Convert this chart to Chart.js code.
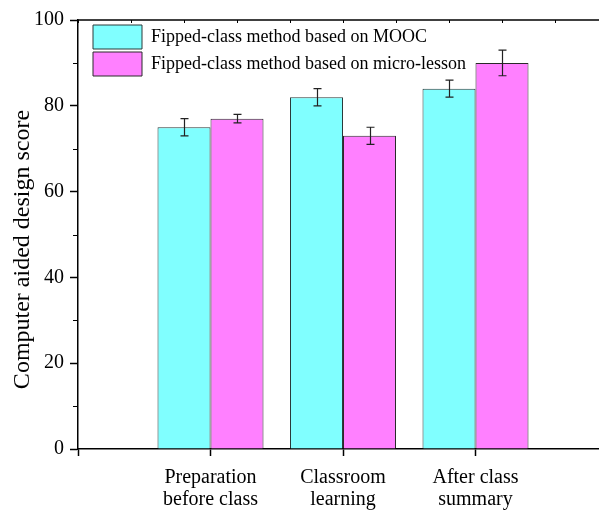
<!DOCTYPE html>
<html>
<head>
<meta charset="utf-8">
<script src="https://cdn.jsdelivr.net/npm/chart.js@4"></script>
<style>
  html, body { margin: 0; padding: 0; background: #fff; overflow: hidden; }
  canvas { display: block; }
</style>
</head>
<body>
<canvas id="c" width="619" height="511"></canvas>
<script>
// Stage of the course (placed at x = 1, 2, 3 on the axis)
const categories = [['Preparation', 'before class'], ['Classroom', 'learning'], ['After class', 'summary']];
const seriesNames = ['Fipped-class method based on MOOC', 'Fipped-class method based on micro-lesson'];
// Mean scores and their error margins
const moocScores = [75, 82, 84];
const moocErrors = [2, 2, 2];
const microScores = [77, 73, 90];
const microErrors = [1, 2, 3];
const yTicks = [0, 20, 40, 60, 80, 100];
const yMinorTicks = [10, 30, 50, 70, 90];

const FONT = "'Liberation Serif', 'Times New Roman', serif";
const INK = '#000';

// Vertical error bars with caps, drawn over each bar
const errorBars = {
  id: 'errorBars',
  afterDatasetsDraw(chart) {
    const { ctx, scales: { y } } = chart;
    ctx.save();
    ctx.strokeStyle = '#222';
    ctx.lineWidth = 1.2;
    chart.data.datasets.forEach((ds, di) => {
      const meta = chart.getDatasetMeta(di);
      meta.data.forEach((bar, i) => {
        const v = ds.data[i].y, e = ds.errors[i];
        const yt = y.getPixelForValue(v + e), yb = y.getPixelForValue(v - e);
        const x = Math.round(bar.x) + 0.5, cap = 4;
        ctx.beginPath();
        ctx.moveTo(x, yt); ctx.lineTo(x, yb);
        ctx.moveTo(x - cap, yt); ctx.lineTo(x + cap, yt);
        ctx.moveTo(x - cap, yb); ctx.lineTo(x + cap, yb);
        ctx.stroke();
      });
    });
    ctx.restore();
  }
};

// Top frame line with small inward ticks, plus minor ticks on the y axis
const frame = {
  id: 'frame',
  afterDraw(chart) {
    const { ctx, chartArea: a, scales: { x, y } } = chart;
    ctx.save();
    ctx.strokeStyle = INK;
    ctx.lineWidth = 1.5;
    ctx.beginPath();
    ctx.moveTo(a.left - 0.75, a.top); ctx.lineTo(a.right, a.top);
    ctx.stroke();
    ctx.lineWidth = 1;
    ctx.beginPath();
    for (let k = 0; k <= 10; k++) {
      const px = Math.round(x.getPixelForValue(k * 0.4)) + 0.5;
      ctx.moveTo(px, a.top); ctx.lineTo(px, a.top + 3);
    }
    yMinorTicks.forEach(t => {
      const py = Math.round(y.getPixelForValue(t)) + 0.5;
      ctx.moveTo(a.left, py); ctx.lineTo(a.left - 5, py);
    });
    ctx.stroke();
    ctx.restore();
  }
};

// Place the legend inside the plot, just below the top frame
const legendInset = {
  id: 'legendInset',
  afterLayout(chart) {
    const lg = chart.legend, a = chart.chartArea;
    if (lg) { lg.left = a.left + 12; lg.top = a.top + 2; }
  }
};

new Chart(document.getElementById('c'), {
  type: 'bar',
  data: {
    datasets: [
      {
        label: seriesNames[0],
        data: moocScores.map((v, i) => ({ x: i + 1, y: v })),
        errors: moocErrors,
        backgroundColor: '#80ffff',
        borderColor: '#2b3a3a',
        borderWidth: 1
      },
      {
        label: seriesNames[1],
        data: microScores.map((v, i) => ({ x: i + 1, y: v })),
        errors: microErrors,
        backgroundColor: '#ff80ff',
        borderColor: '#2a2a2a',
        borderWidth: 1
      }
    ]
  },
  options: {
    responsive: false,
    animation: false,
    devicePixelRatio: 1,
    layout: { padding: { top: 20, right: 0, left: 0, bottom: 0 } },
    datasets: { bar: { categoryPercentage: 0.8, barPercentage: 1 } },
    scales: {
      x: {
        type: 'linear',
        offset: false,
        min: 0, max: 4,
        afterBuildTicks(s) { s.ticks = [0, 1, 2, 3, 4].map(v => ({ value: v })); },
        afterFit(s) { s.height = 62; },
        grid: { drawOnChartArea: false, offset: false, tickLength: 7, tickColor: INK, tickWidth: 1.5 },
        border: { display: true, color: INK, width: 1.5 },
        ticks: {
          padding: 11,
          color: INK,
          maxRotation: 0,
          autoSkip: false,
          font: { family: FONT, size: 20, lineHeight: 1.1 },
          callback: v => categories[v - 1] || ''
        }
      },
      y: {
        min: 0, max: 100,
        afterBuildTicks(s) { s.ticks = yTicks.map(v => ({ value: v })); },
        afterFit(s) { s.width = 78; },
        grid: { drawOnChartArea: false, tickLength: 8, tickColor: INK, tickWidth: 1.5 },
        border: { display: true, color: INK, width: 1.5 },
        ticks: { padding: 6, color: INK, font: { family: FONT, size: 20 } },
        title: {
          display: true,
          text: 'Computer aided design score     ',
          color: INK,
          font: { family: FONT, size: 24, lineHeight: 1.2 },
          padding: { top: 8, bottom: 0 }
        }
      }
    },
    plugins: {
      legend: {
        position: 'chartArea',
        align: 'start',
        labels: {
          boxWidth: 49,
          boxHeight: 24,
          padding: 3,
          color: INK,
          font: { family: FONT, size: 18 }
        }
      },
      tooltip: { enabled: false }
    }
  },
  plugins: [errorBars, frame, legendInset]
});
</script>
</body>
</html>
